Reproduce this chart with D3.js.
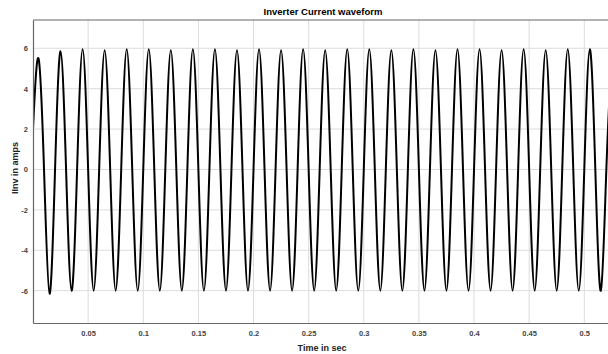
<!DOCTYPE html>
<html>
<head>
<meta charset="utf-8">
<script src="https://cdn.jsdelivr.net/npm/d3@7"></script>
<style>
  body { margin: 0; background: #fff; }
  svg { display: block; font-family: "Liberation Sans", Arial, sans-serif; }
</style>
</head>
<body>
<div id="chart"></div>
<script>
// samples at every quarter cycle (50 Hz)
const time = [
  0, 0.005, 0.01, 0.015, 0.02, 0.025, 0.03, 0.035, 0.04, 0.045,
  0.05, 0.055, 0.06, 0.065, 0.07, 0.075, 0.08, 0.085, 0.09, 0.095,
  0.1, 0.105, 0.11, 0.115, 0.12, 0.125, 0.13, 0.135, 0.14, 0.145,
  0.15, 0.155, 0.16, 0.165, 0.17, 0.175, 0.18, 0.185, 0.19, 0.195,
  0.2, 0.205, 0.21, 0.215, 0.22, 0.225, 0.23, 0.235, 0.24, 0.245,
  0.25, 0.255, 0.26, 0.265, 0.27, 0.275, 0.28, 0.285, 0.29, 0.295,
  0.3, 0.305, 0.31, 0.315, 0.32, 0.325, 0.33, 0.335, 0.34, 0.345,
  0.35, 0.355, 0.36, 0.365, 0.37, 0.375, 0.38, 0.385, 0.39, 0.395,
  0.4, 0.405, 0.41, 0.415, 0.42, 0.425, 0.43, 0.435, 0.44, 0.445,
  0.45, 0.455, 0.46, 0.465, 0.47, 0.475, 0.48, 0.485, 0.49, 0.495,
  0.5, 0.505, 0.51, 0.515, 0.52, 0.525
];
const current = [
  2.0, 5.5, 0, -6.15, 0, 5.85, 0, -6.0, 0, 5.95,
  0, -6.0, 0, 5.9, 0, -6.0, 0, 5.95, 0, -6.0,
  0, 5.95, 0, -6.0, 0, 5.9, 0, -6.0, 0, 5.95,
  0, -6.0, 0, 5.95, 0, -6.0, 0, 5.9, 0, -6.0,
  0, 5.95, 0, -6.0, 0, 5.9, 0, -6.0, 0, 5.95,
  0, -6.0, 0, 5.9, 0, -6.0, 0, 5.95, 0, -6.0,
  0, 5.95, 0, -6.0, 0, 5.9, 0, -6.0, 0, 5.95,
  0, -6.0, 0, 5.9, 0, -6.0, 0, 5.95, 0, -6.0,
  0, 5.95, 0, -6.0, 0, 5.9, 0, -6.0, 0, 5.95,
  0, -6.0, 0, 5.9, 0, -6.0, 0, 5.95, 0, -6.0,
  0, 5.95, 0, -6.0, 0, 5.9
];
const xTicks = [0.05, 0.1, 0.15, 0.2, 0.25, 0.3, 0.35, 0.4, 0.45, 0.5];
const yTicks = [-6, -4, -2, 0, 2, 4, 6];

const W = 608, H = 354;
const margin = {top: 20, right: 0, bottom: 31, left: 33};
const width = W - margin.left - margin.right,
      height = H - margin.top - margin.bottom;

const svg = d3.select("#chart").append("svg")
  .attr("width", W).attr("height", H);

const g = svg.append("g")
  .attr("transform", `translate(${margin.left},${margin.top})`);

const x = d3.scaleLinear().domain([0, 0.5215]).range([0, width]);
const y = d3.scaleLinear().domain([-7.6, 7.4]).range([height, 0]);

// grid
g.append("g").selectAll("line").data(xTicks).join("line")
  .attr("x1", d => x(d)).attr("x2", d => x(d))
  .attr("y1", 0).attr("y2", height)
  .attr("stroke", "#dcdcdc").attr("stroke-width", 1);
g.append("g").selectAll("line").data(yTicks).join("line")
  .attr("x1", 0).attr("x2", width)
  .attr("y1", d => y(d)).attr("y2", d => y(d))
  .attr("stroke", "#dcdcdc").attr("stroke-width", 1);

// waveform
g.append("clipPath").attr("id", "clip")
  .append("rect").attr("width", width).attr("height", height);

const pts = time.map((t, i) => [t, current[i]]);
const line = d3.line()
  .x(d => x(d[0]))
  .y(d => y(d[1]))
  .curve(d3.curveNatural);

g.append("path")
  .datum(pts)
  .attr("clip-path", "url(#clip)")
  .attr("fill", "none")
  .attr("stroke", "#000")
  .attr("stroke-width", 2)
  .attr("stroke-linejoin", "round")
  .attr("d", line);

// axes
const xAxis = g.append("g")
  .attr("transform", `translate(0,${height})`)
  .call(d3.axisBottom(x).tickValues(xTicks).tickFormat(d => String(d)).tickSize(0).tickPadding(8));
const yAxis = g.append("g")
  .call(d3.axisLeft(y).tickValues(yTicks).tickFormat(d => String(d)).tickSize(0).tickPadding(5));

[xAxis, yAxis].forEach(a => {
  a.select(".domain").attr("stroke", "#666").attr("stroke-width", 1.2);
  a.selectAll("text")
    .attr("fill", "#444")
    .style("font-size", "7.5px")
    .style("font-weight", "bold");
});

g.append("line")
  .attr("x1", 0).attr("x2", width).attr("y1", 0).attr("y2", 0)
  .attr("stroke", "#666").attr("stroke-width", 1.2);

// labels
svg.append("text")
  .attr("x", 323).attr("y", 15)
  .attr("text-anchor", "middle")
  .style("font-size", "9.5px").style("font-weight", "bold")
  .text("Inverter Current waveform");

svg.append("text")
  .attr("x", 322).attr("y", 351)
  .attr("text-anchor", "middle")
  .style("font-size", "9px").style("font-weight", "bold")
  .attr("fill", "#222")
  .text("Time in sec");

svg.append("text")
  .attr("transform", `translate(18,168) rotate(-90)`)
  .attr("text-anchor", "middle")
  .style("font-size", "9px").style("font-weight", "bold")
  .attr("fill", "#222")
  .text("IInv in amps");
</script>
</body>
</html>
